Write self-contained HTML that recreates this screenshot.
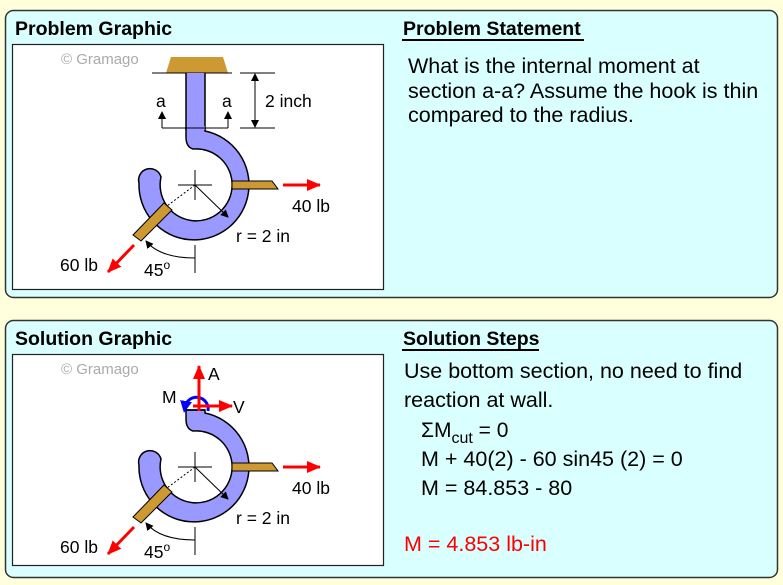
<!DOCTYPE html>
<html><head><meta charset="utf-8"><style>
html,body{margin:0;padding:0;background:#ffffdc;}
svg{display:block;font-family:"Liberation Sans",sans-serif;}
</style></head><body>
<svg width="783" height="585" viewBox="0 0 783 585" xmlns="http://www.w3.org/2000/svg">
<defs>
<marker id="ab" markerWidth="8" markerHeight="8" refX="7" refY="4" orient="auto" markerUnits="userSpaceOnUse"><path d="M0,0 L8,4 L0,8 Z" fill="#000"/></marker>
<marker id="ar" markerWidth="14" markerHeight="12" refX="13" refY="6" orient="auto" markerUnits="userSpaceOnUse"><path d="M0,0 L14,6 L0,12 Z" fill="#f00"/></marker>
<marker id="abl" markerWidth="12" markerHeight="12" refX="6" refY="6" orient="auto" markerUnits="userSpaceOnUse"><path d="M0,0 L12,6 L0,12 Z" fill="#00f"/></marker>
<g id="hookbase">
<path d="M205,128 L205,131 A55 55 0 1 1 139,183 A11 11 0 0 1 161,177 A36 36 0 1 0 193,149 Q186,147 186,137 L186,128 Z" fill="#9999ff" stroke="#000" stroke-width="1.5"/>
<path d="M232,181 L272,181 L278,189 L232,189 Z" fill="#cc9933" stroke="#000" stroke-width="1"/>
<path d="M133,235 L141,241 L172,210 L164,203 Z" fill="#cc9933" stroke="#000" stroke-width="1"/>
<line x1="178" y1="185" x2="212" y2="185" stroke="#000"/>
<line x1="195" y1="170" x2="195" y2="200" stroke="#000"/>
<line x1="195" y1="185" x2="167" y2="206" stroke="#000" stroke-dasharray="2,2"/>
<line x1="195" y1="185" x2="228" y2="217" stroke="#000" marker-end="url(#ab)"/>
<line x1="283" y1="185" x2="320" y2="185" stroke="#f00" stroke-width="3" marker-end="url(#ar)"/>
<line x1="134" y1="245" x2="108" y2="272" stroke="#f00" stroke-width="3" marker-end="url(#ar)"/>
<line x1="195" y1="245" x2="195" y2="273" stroke="#000"/>
<path d="M195,258 Q160,258 146,241" fill="none" stroke="#000" marker-end="url(#ab)"/>
<text x="292" y="212" font-size="17.5">40 lb</text>
<text x="236" y="242" font-size="17.5">r = 2 in</text>
<text x="60" y="271" font-size="17.5">60 lb</text>
<text x="144" y="276" font-size="17.5">45<tspan font-size="12" dy="-7">o</tspan></text>
</g>
</defs>
<rect x="5.5" y="10.5" width="772" height="287" rx="8" fill="#d9ffff" stroke="#333" stroke-width="1.5"/>
<rect x="12.5" y="44.5" width="371" height="245" fill="#fff" stroke="#222" stroke-width="1.2"/>
<text x="15" y="35" font-size="19.5" font-weight="bold">Problem Graphic</text>
<text x="403" y="35" font-size="19.5" font-weight="bold">Problem Statement</text>
<line x1="402" y1="40" x2="584" y2="40" stroke="#000" stroke-width="2"/>
<text x="408" y="73" font-size="21.5">What is the internal moment at</text>
<text x="408" y="98" font-size="21.5">section a-a? Assume the hook is thin</text>
<text x="408" y="122" font-size="21.5">compared to the radius.</text>
<text x="61" y="64" font-size="15" fill="#aaa">© Gramago</text>
<path d="M166,73 L171,57 L223,57 L228,73 Z" fill="#cc9933"/>
<line x1="152" y1="73" x2="232" y2="73" stroke="#000"/>
<path d="M186,73 L205,73 L205,130 L186,130 Z" fill="#9999ff"/>
<line x1="186" y1="73" x2="186" y2="130" stroke="#000" stroke-width="1.5"/>
<line x1="205" y1="73" x2="205" y2="130" stroke="#000" stroke-width="1.5"/>
<use href="#hookbase"/>
<path d="M187,128 L205,128" stroke="#9999ff" stroke-width="3"/>
<line x1="162" y1="128" x2="228" y2="128" stroke="#000"/>
<line x1="162" y1="128" x2="162" y2="112" stroke="#000" marker-end="url(#ab)"/>
<line x1="228" y1="128" x2="228" y2="112" stroke="#000" marker-end="url(#ab)"/>
<text x="156" y="107" font-size="17.5">a</text>
<text x="222" y="107" font-size="17.5">a</text>
<line x1="240" y1="73" x2="275" y2="73" stroke="#000"/>
<line x1="240" y1="128" x2="275" y2="128" stroke="#000"/>
<line x1="255" y1="100" x2="255" y2="74" stroke="#000" marker-end="url(#ab)"/>
<line x1="255" y1="100" x2="255" y2="127" stroke="#000" marker-end="url(#ab)"/>
<text x="265" y="107" font-size="17.5">2 inch</text>
<rect x="5.5" y="320.5" width="772" height="257" rx="8" fill="#d9ffff" stroke="#333" stroke-width="1.5"/>
<rect x="12.5" y="354.5" width="371" height="211" fill="#fff" stroke="#222" stroke-width="1.2"/>
<text x="15" y="345" font-size="19.5" font-weight="bold">Solution Graphic</text>
<text x="403" y="345" font-size="19.5" font-weight="bold">Solution Steps</text>
<line x1="402" y1="350" x2="539" y2="350" stroke="#000" stroke-width="2"/>
<text x="404" y="378" font-size="21.5">Use bottom section, no need to find</text>
<text x="404" y="407" font-size="21.5">reaction at wall.</text>
<text x="421" y="437" font-size="21">ΣM<tspan font-size="16" dy="6">cut</tspan><tspan dy="-6"> = 0</tspan></text>
<text x="421" y="466" font-size="21.5">M + 40(2) - 60 sin45 (2) = 0</text>
<text x="421" y="495" font-size="21.5">M = 84.853 - 80</text>
<text x="404" y="551" font-size="21.5" fill="#f00">M = 4.853 lb-in</text>
<text x="61" y="374" font-size="15" fill="#aaa">© Gramago</text>
<g transform="translate(0,282)"><use href="#hookbase"/></g>
<line x1="186" y1="410" x2="205" y2="410" stroke="#000" stroke-width="1.5"/>
<path d="M208,411 A10 10 0 1 0 185,407" fill="none" stroke="#00f" stroke-width="3" marker-end="url(#abl)"/>
<line x1="199" y1="411" x2="199" y2="366" stroke="#f00" stroke-width="3" marker-end="url(#ar)"/>
<line x1="193" y1="406" x2="232" y2="406" stroke="#f00" stroke-width="3" marker-end="url(#ar)"/>
<text x="208" y="380" font-size="17.5">A</text>
<text x="162" y="403" font-size="17.5">M</text>
<text x="233" y="413" font-size="17.5">V</text>
</svg>
</body></html>
